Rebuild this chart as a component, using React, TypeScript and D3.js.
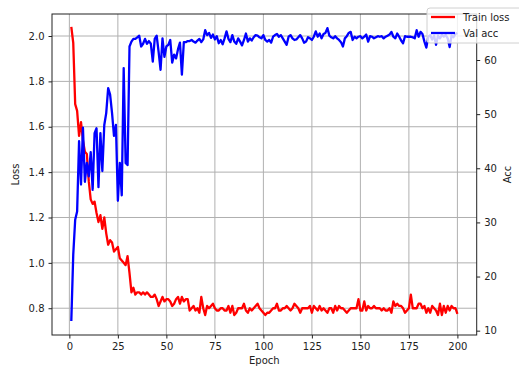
import * as d3 from "d3";
import { useEffect, useRef } from "react";

const W = 519;
const H = 366;
const margin = { top: 14, right: 42.3, bottom: 31, left: 52 };

const epochs = d3.range(1, 201);

const trainLoss = [
  2.04, 1.97, 1.7, 1.67, 1.56, 1.62, 1.54, 1.49, 1.48, 1.36,
  1.28, 1.26, 1.27, 1.22, 1.18, 1.21, 1.15, 1.2, 1.13, 1.08,
  1.1, 1.09, 1.05, 1.06, 1.07, 1.02, 1.01, 1.0, 0.99, 1.03,
  0.955, 0.87, 0.89, 0.86, 0.87, 0.87, 0.86, 0.87, 0.86, 0.87,
  0.86, 0.85, 0.85, 0.86, 0.84, 0.81, 0.83, 0.85, 0.83, 0.84,
  0.84, 0.83, 0.81, 0.82, 0.84, 0.85, 0.82, 0.85, 0.83, 0.84,
  0.84, 0.79, 0.8, 0.81, 0.79, 0.8, 0.78, 0.85, 0.8, 0.77,
  0.81, 0.8, 0.81, 0.82, 0.8, 0.79, 0.79, 0.8, 0.8, 0.79,
  0.79, 0.81, 0.78, 0.81, 0.77, 0.78, 0.8, 0.8, 0.8, 0.82,
  0.79, 0.78, 0.8, 0.79, 0.8, 0.81, 0.82, 0.8, 0.79, 0.78,
  0.77, 0.78, 0.78, 0.79, 0.8, 0.8, 0.82, 0.79, 0.79, 0.8,
  0.8, 0.81, 0.8, 0.79, 0.8, 0.82, 0.81, 0.8, 0.78, 0.8,
  0.8, 0.8, 0.8, 0.81, 0.78, 0.81, 0.8, 0.79, 0.81, 0.79,
  0.8, 0.79, 0.78, 0.8, 0.8, 0.78, 0.81, 0.79, 0.81, 0.8,
  0.8, 0.79, 0.78, 0.79, 0.8, 0.8, 0.8, 0.8, 0.84, 0.79,
  0.79, 0.83, 0.79, 0.81, 0.8, 0.8, 0.81, 0.8, 0.8, 0.8,
  0.79, 0.8, 0.79, 0.79, 0.8, 0.78, 0.83, 0.81, 0.82, 0.81,
  0.81, 0.8, 0.78, 0.79, 0.8, 0.86, 0.8, 0.8, 0.8, 0.82,
  0.82, 0.8, 0.81, 0.78, 0.8, 0.78, 0.81, 0.8, 0.79, 0.77,
  0.82, 0.77, 0.81, 0.78, 0.81, 0.79, 0.81, 0.8, 0.8, 0.775,
];

const valAcc = [
  11.8, 24, 30.5, 32, 45, 37, 47.5, 37.5, 41, 38.5,
  43, 36, 46.5, 47.4, 36.5, 46.5, 39.5, 48, 50.2, 54.8,
  53.6, 50.2, 46, 48, 34, 41, 35, 58.5, 41, 40.6,
  62.5, 63.4, 63.9, 63.9, 64.2, 64.5, 62.5, 63, 63.9, 63,
  63.5, 63, 59.7, 63.9, 64.5, 61.5, 58.2, 64, 60.6, 62.5,
  62.8, 63.7, 59.5, 61, 60.3, 62, 63.2, 57.3, 63.3, 63.3,
  63.5, 63.5, 63.7, 63.4, 63.2, 63.6, 63.9, 63.3, 63.8, 65.5,
  64.6, 65.0, 64.1, 64.7, 63.8, 64.4, 63.1, 63.7, 62.9, 64.0,
  65.3, 63.9, 63.3, 64.6, 63.4, 63.0, 64.0, 63.4, 62.7, 63.7,
  64.9, 63.4, 64.0, 63.6, 64.2, 64.6, 64.5, 64.2, 64.0, 64.6,
  63.7, 63.4, 63.7, 63.2, 64.3, 64.6, 64.8, 64.3, 64.6, 64.0,
  63.4, 62.8, 64.3, 64.6, 64.0, 63.7, 63.8, 64.2, 64.6, 64.0,
  63.2, 63.4, 64.2, 64.0, 63.7, 64.3, 65.3, 64.3, 64.9, 64.0,
  64.8, 65.0, 65.9, 64.5, 64.2, 64.0, 64.4, 64.0, 63.7, 63.3,
  62.5, 64.0, 64.4, 65.0, 65.2, 63.7, 64.3, 64.0, 64.3, 64.4,
  64.0, 64.3, 64.7, 63.4, 64.4, 64.3, 64.0, 64.2, 64.4, 64.3,
  64.4, 64.0, 64.3, 64.5, 64.7, 65.2, 64.3, 64.0, 64.9, 64.3,
  63.6, 63.1, 64.4, 64.3, 64.3, 64.3, 64.2, 64.0, 65.5, 64.3,
  65.2, 64.8, 63.4, 62.3, 64.3, 64.6, 63.8, 64.5, 62.8, 64.5,
  64.0, 64.6, 64.3, 64.6, 64.0, 62.4, 64.5, 64.2, 64.8, 65.0,
];

const xTicks = [0, 25, 50, 75, 100, 125, 150, 175, 200];
const lossTicks = [0.8, 1.0, 1.2, 1.4, 1.6, 1.8, 2.0];
const accTicks = [10, 20, 30, 40, 50, 60];
const legendLabels = ["Train loss", "Val acc"];
const colors = ["#ff0000", "#0000ff"];

const font = "DejaVu Sans, sans-serif";

function drawChart(el: SVGSVGElement) {
  const svg = d3.select(el);
  svg.selectAll("*").remove();

  const width = W - margin.left - margin.right;
  const height = H - margin.top - margin.bottom;

  const x = d3.scaleLinear().domain([-8.95, 209.95]).range([0, width]);
  const yLoss = d3.scaleLinear().domain([0.682, 2.097]).range([height, 0]);
  const yAcc = d3.scaleLinear().domain([9.2, 68.5]).range([height, 0]);

  const chart = svg
    .append("g")
    .attr("transform", "translate(" + margin.left + "," + margin.top + ")");

  // grid (x ticks and left axis ticks)
  chart
    .append("g")
    .selectAll("line")
    .data(xTicks)
    .enter()
    .append("line")
    .attr("x1", (d) => x(d))
    .attr("x2", (d) => x(d))
    .attr("y1", 0)
    .attr("y2", height)
    .attr("stroke", "#b0b0b0")
    .attr("stroke-width", 1);
  chart
    .append("g")
    .selectAll("line")
    .data(lossTicks)
    .enter()
    .append("line")
    .attr("x1", 0)
    .attr("x2", width)
    .attr("y1", (d) => yLoss(d))
    .attr("y2", (d) => yLoss(d))
    .attr("stroke", "#b0b0b0")
    .attr("stroke-width", 1);

  // lines
  const lossLine = d3
    .line<number>()
    .x((d, i) => x(epochs[i]))
    .y((d) => yLoss(d));
  const accLine = d3
    .line<number>()
    .x((d, i) => x(epochs[i]))
    .y((d) => yAcc(d));

  chart
    .append("path")
    .datum(trainLoss)
    .attr("d", lossLine)
    .attr("fill", "none")
    .attr("stroke", colors[0])
    .attr("stroke-width", 2.3)
    .attr("stroke-linejoin", "round");
  chart
    .append("path")
    .datum(valAcc)
    .attr("d", accLine)
    .attr("fill", "none")
    .attr("stroke", colors[1])
    .attr("stroke-width", 2.3)
    .attr("stroke-linejoin", "round");

  // axes
  const styleAxis = (g: any) => {
    g.select(".domain").remove();
    g.selectAll("line").attr("stroke", "#222").attr("stroke-width", 1);
    g.selectAll("text")
      .attr("fill", "#222")
      .style("font-family", font)
      .style("font-size", "10px");
  };

  chart
    .append("g")
    .attr("transform", `translate(0,${height})`)
    .call(
      d3
        .axisBottom(x)
        .tickValues(xTicks)
        .tickSize(3.5)
        .tickPadding(4)
        .tickFormat((d) => String(d))
    )
    .call(styleAxis);

  chart
    .append("g")
    .call(
      d3
        .axisLeft(yLoss)
        .tickValues(lossTicks)
        .tickSize(3.5)
        .tickPadding(4)
        .tickFormat(d3.format(".1f"))
    )
    .call(styleAxis);

  chart
    .append("g")
    .attr("transform", `translate(${width},0)`)
    .call(
      d3
        .axisRight(yAcc)
        .tickValues(accTicks)
        .tickSize(3.5)
        .tickPadding(4)
        .tickFormat((d) => String(d))
    )
    .call(styleAxis);

  // spines
  chart
    .append("rect")
    .attr("x", 0)
    .attr("y", 0)
    .attr("width", width)
    .attr("height", height)
    .attr("fill", "none")
    .attr("stroke", "#222")
    .attr("stroke-width", 1);

  // axis labels
  svg
    .append("text")
    .attr("x", margin.left + width / 2)
    .attr("y", 364)
    .attr("text-anchor", "middle")
    .attr("fill", "#222")
    .style("font-family", font)
    .style("font-size", "10px")
    .text("Epoch");

  svg
    .append("text")
    .attr("transform", `translate(19,${margin.top + height / 2})rotate(-90)`)
    .attr("text-anchor", "middle")
    .attr("fill", "#222")
    .style("font-family", font)
    .style("font-size", "10px")
    .text("Loss");

  svg
    .append("text")
    .attr("transform", `translate(511,${margin.top + height / 2})rotate(-90)`)
    .attr("text-anchor", "middle")
    .attr("fill", "#222")
    .style("font-family", font)
    .style("font-size", "10px")
    .text("Acc");

  // legend
  const legend = svg.append("g").attr("transform", "translate(427,8)");
  legend
    .append("rect")
    .attr("x", 0)
    .attr("y", 0)
    .attr("width", 110)
    .attr("height", 35)
    .attr("rx", 3)
    .attr("fill", "white")
    .attr("fill-opacity", 0.8)
    .attr("stroke", "#d0d0d0")
    .attr("stroke-width", 1);

  legendLabels.forEach((label, i) => {
    const cy = 9 + i * 16;
    legend
      .append("line")
      .attr("x1", 4)
      .attr("x2", 28)
      .attr("y1", cy)
      .attr("y2", cy)
      .attr("stroke", colors[i])
      .attr("stroke-width", 2.3);
    legend
      .append("text")
      .attr("x", 36)
      .attr("y", cy + 3.6)
      .attr("fill", "#222")
      .style("font-family", font)
      .style("font-size", "10px")
      .text(label);
  });
}

export default function App() {
  const ref = useRef<SVGSVGElement>(null);

  useEffect(() => {
    if (ref.current) drawChart(ref.current);
  }, []);

  return (
    <svg
      ref={ref}
      width={W}
      height={H}
      style={{ position: "absolute", left: 0, top: 0, background: "white" }}
    ></svg>
  );
}
